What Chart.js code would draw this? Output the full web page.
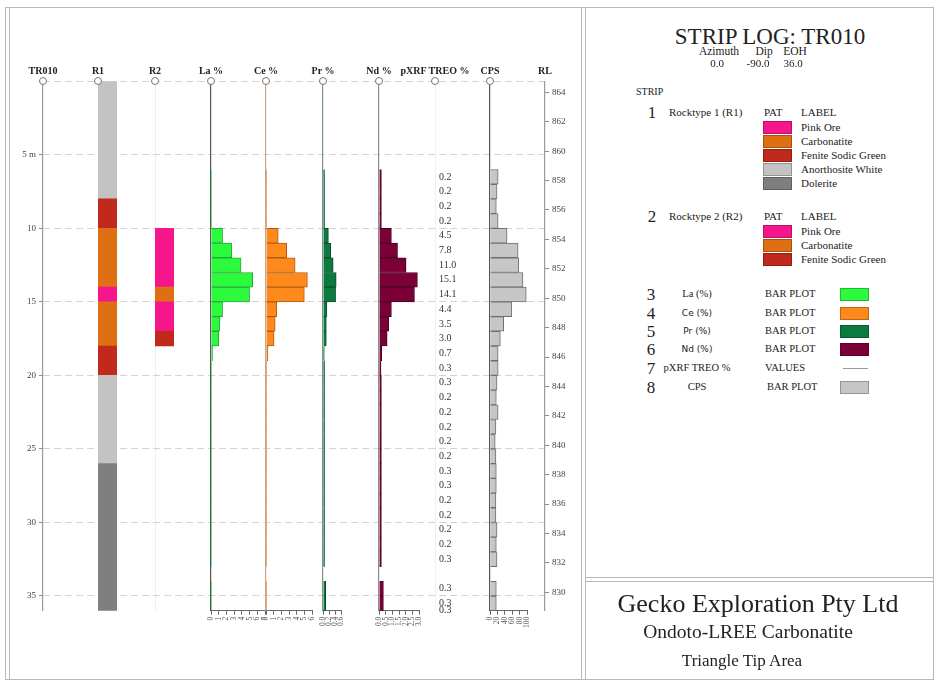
<!DOCTYPE html>
<html>
<head>
<meta charset="utf-8">
<title>Strip Log TR010</title>
<script src="https://cdn.jsdelivr.net/npm/chart.js@4.4.1/dist/chart.umd.min.js"></script>
<style>
  body { margin: 0; width: 939px; height: 682px; position: relative; overflow: hidden; background: #fff;
         font-family: 'Liberation Serif', 'DejaVu Serif', serif; color: #222; }
  canvas { position: absolute; top: 0; }
  .txt { position: absolute; white-space: nowrap; line-height: 1; }
  .line { position: absolute; background: #b8b8b8; }
  .dot { position: absolute; width: 6px; height: 6px; border: 1px solid #777; border-radius: 50%; background: #fff; z-index: 5; }
  .sw { position: absolute; width: 29px; height: 13px; box-sizing: border-box; border: 1px solid rgba(0,0,0,0.25); }
</style>
</head>
<body>
<script>
// ---- hole / data ----
const eohDepth = 36;
const collarRL = 864.75;

// lithology intervals (m)
const r1From = [0, 8, 10, 14, 15, 18, 20, 26];
const r1To   = [8, 10, 14, 15, 18, 20, 26, 36];
const r1Rock = ['Anorthosite White', 'Fenite Sodic Green', 'Carbonatite', 'Pink Ore',
                'Carbonatite', 'Fenite Sodic Green', 'Anorthosite White', 'Dolerite'];
const r2From = [10, 14, 15, 17];
const r2To   = [14, 15, 17, 18];
const r2Rock = ['Pink Ore', 'Carbonatite', 'Pink Ore', 'Fenite Sodic Green'];

// 1 m samples, from-depth; null = no sample (33-34 m)
const sampleFrom = [6, 7, 8, 9, 10, 11, 12, 13, 14, 15, 16, 17, 18, 19, 20,
                    21, 22, 23, 24, 25, 26, 27, 28, 29, 30, 31, 32, 33, 34, 35];
const laPct   = [0.1, 0.1, 0.1, 0.1, 1.5, 2.7, 3.9, 5.4, 5.0, 1.5, 1.15, 1.0, 0.2,
                 0.1, 0.1, 0.1, 0.1, 0.1, 0.1, 0.1, 0.1, 0.1, 0.1, 0.1, 0.1, 0.1, 0.1, null, 0.1, 0.1];
const cePct   = [0.1, 0.1, 0.1, 0.1, 1.6, 2.7, 3.8, 5.4, 5.0, 1.4, 1.2, 1.05, 0.25,
                 0.1, 0.1, 0.1, 0.1, 0.1, 0.1, 0.1, 0.1, 0.1, 0.1, 0.1, 0.1, 0.1, 0.1, null, 0.1, 0.1];
const prPct   = [0.05, 0.05, 0.05, 0.05, 0.18, 0.26, 0.34, 0.44, 0.42, 0.13, 0.11, 0.11, 0.04,
                 0.05, 0.05, 0.05, 0.05, 0.05, 0.05, 0.05, 0.05, 0.05, 0.05, 0.05, 0.05, 0.05, 0.05, null, 0.09, 0.09];
const ndPct   = [0.18, 0.18, 0.18, 0.18, 0.93, 1.39, 2.03, 2.88, 2.66, 0.93, 0.73, 0.61, 0.2,
                 0.15, 0.18, 0.18, 0.18, 0.18, 0.18, 0.18, 0.18, 0.18, 0.18, 0.18, 0.18, 0.18, 0.18, null, 0.33, 0.33];
const treoPct = [0.2, 0.2, 0.2, 0.2, 4.5, 7.8, 11.0, 15.1, 14.1, 4.4, 3.5, 3.0, 0.7,
                 0.3, 0.3, 0.2, 0.2, 0.2, 0.2, 0.2, 0.3, 0.3, 0.2, 0.2, 0.2, 0.2, 0.3, null, 0.3, 0.3];
const treoEoh = 0.3;
const cps     = [22, 19, 17, 22, 46, 76, 78, 89, 98, 59, 37, 28, 22,
                 22, 19, 17, 22, 16, 14, 16, 17, 17, 16, 16, 19, 17, 19, null, 17, 17];

// tick labels
const depthTicks = [0, 5, 10, 15, 20, 25, 30, 35];
const rlTicks  = [864, 862, 860, 858, 856, 854, 852, 850, 848, 846, 844, 842, 840, 838, 836, 834, 832, 830];
const laTicks  = [0, 1, 2, 3, 4, 5, 6, 7];
const ceTicks  = [0, 1, 2, 3, 4, 5, 6];
const prTicks  = [0, 0.2, 0.4, 0.6];
const ndTicks  = [0, 0.5, 1, 1.5, 2, 2.5, 3];
const cpsTicks = [0, 20, 40, 60, 80, 100];

// ---- layout / styles ----
const SERIF = "'Liberation Serif', 'DejaVu Serif', serif";
const SANS = "'DejaVu Sans', sans-serif";
Chart.defaults.font.family = SERIF;
Chart.defaults.color = '#333';

const TOP = 81.3, BOT = 610.7, H = 682;
const X = { depth: 43, R1: 98, R2: 155, La: 211, Ce: 266, Pr: 323, Nd: 379, TREO: 435, CPS: 490, RL: 545 };
const span = { La: 55, Ce: 46.5, Pr: 19, Nd: 41, CPS: 38.3 };

const rockColour = {
  'Pink Ore': '#f6168c',
  'Carbonatite': '#de6f12',
  'Fenite Sodic Green': '#c2291d',
  'Anorthosite White': '#c3c3c3',
  'Dolerite': '#7f7f7f'
};

const base = { responsive: false, animation: false, events: [],
               plugins: { legend: { display: false }, tooltip: { enabled: false } } };

function addCanvas(left, width) {
  const c = document.createElement('canvas');
  c.width = width;
  c.height = H;
  c.style.left = left + 'px';
  document.body.appendChild(c);
  return c;
}

// hidden depth axis that only shows the track's vertical line
const depthLine = colour => ({
  type: 'linear', reverse: true, min: 0, max: eohDepth, offset: false,
  ticks: { display: false, stepSize: 6 },
  grid: { display: false, offset: false },
  border: { display: colour != null, color: colour || '#000', width: 1.2 },
  afterFit: s => { s.width = 0; }
});

// background: depth axis, RL axis and dashed depth grid
new Chart(addCanvas(0, 580), {
  type: 'scatter',
  data: { datasets: [{ data: [] }] },
  options: { ...base,
    layout: { padding: { left: 0, right: 0, top: TOP, bottom: H - BOT } },
    scales: {
      x: { display: false, min: 0, max: 1 },
      y: {
        position: 'left', type: 'linear', reverse: true, min: 0, max: eohDepth,
        afterBuildTicks: s => { s.ticks = depthTicks.map(v => ({ value: v })); },
        afterFit: s => { s.width = X.depth; },
        ticks: { padding: 3, font: { size: 9 }, color: '#444',
                 callback: v => v === 0 ? '' : (v === 5 ? '5 m' : String(v)) },
        grid: { color: '#d2d2d2', lineWidth: 1, tickLength: 4, tickColor: '#888', tickBorderDash: [] },
        border: { display: true, color: '#9a9a9a', width: 1.2, dash: [7, 4] }
      },
      rl: {
        axis: 'y', position: 'right', type: 'linear', min: collarRL - eohDepth, max: collarRL,
        afterBuildTicks: s => { s.ticks = rlTicks.map(v => ({ value: v })); },
        afterFit: s => { s.width = 580 - X.RL; },
        ticks: { padding: 3, font: { size: 9 }, color: '#444' },
        grid: { drawOnChartArea: false, tickLength: 4, color: '#888' },
        border: { display: true, color: '#9a9a9a', width: 1.2 }
      }
    }
  }
});

function lithTrack(key, from, to, rock, width, axisColour) {
  new Chart(addCanvas(X[key], width), {
    type: 'bar',
    data: { labels: [key], datasets: [{
      data: from.map((f, i) => ({ x: key, y: [f, to[i]] })),
      backgroundColor: rock.map(r => rockColour[r]),
      borderWidth: 0, barPercentage: 1, categoryPercentage: 1
    }] },
    options: { ...base,
      layout: { padding: { left: 0, right: 0, top: TOP, bottom: H - BOT } },
      scales: { x: { display: false }, y: depthLine(axisColour) }
    }
  });
}

function barTrack(key, values, ticks, fill, edge, axisColour, fmt) {
  const pad = 10;
  new Chart(addCanvas(X[key] - pad, Math.round(span[key]) + 2 * pad), {
    type: 'bar',
    data: { datasets: [{
      data: sampleFrom.map((d, i) => ({ x: values[i], y: d + 0.5 })),
      backgroundColor: fill, borderColor: edge, borderWidth: 1,
      barPercentage: 1, categoryPercentage: 1
    }] },
    options: { ...base,
      indexAxis: 'y',
      layout: { padding: { left: pad, right: pad + Math.round(span[key]) - span[key], top: TOP, bottom: 0 } },
      scales: {
        y: depthLine(axisColour),
        x: {
          type: 'linear', position: 'bottom', min: ticks[0], max: ticks[ticks.length - 1],
          afterBuildTicks: s => { s.ticks = ticks.map(v => ({ value: v })); },
          afterFit: s => { s.height = H - BOT; },
          ticks: { autoSkip: false, minRotation: 90, maxRotation: 90, padding: 2,
                   font: { size: 7.5 }, color: '#555', callback: fmt },
          grid: { drawOnChartArea: false, tickLength: 4, color: '#666' },
          border: { display: true, color: '#666', width: 1 }
        }
      }
    }
  });
}

const valueLabels = {
  id: 'valueLabels',
  afterDatasetsDraw(chart) {
    const ctx = chart.ctx;
    const pts = chart.data.datasets[0].data;
    ctx.save();
    ctx.font = '10px ' + SERIF;
    ctx.fillStyle = '#333';
    ctx.textBaseline = 'middle';
    chart.getDatasetMeta(0).data.forEach((el, i) => {
      ctx.fillText(pts[i].v.toFixed(1), el.x + 4, el.y);
    });
    ctx.restore();
  }
};

function valueTrack() {
  const pts = [];
  sampleFrom.forEach((d, i) => {
    if (treoPct[i] != null) pts.push({ x: 0, y: d + 0.5, v: treoPct[i] });
  });
  pts.push({ x: 0, y: eohDepth, v: treoEoh });
  new Chart(addCanvas(X.TREO, 40), {
    type: 'scatter',
    data: { datasets: [{ data: pts, pointRadius: 0 }] },
    options: { ...base,
      layout: { padding: { left: 0, right: 0, top: TOP, bottom: H - BOT } },
      scales: { x: { display: false, min: 0, max: 1 }, y: depthLine('#b4b4b4') }
    },
    plugins: [valueLabels]
  });
}

lithTrack('R1', r1From, r1To, r1Rock, 19, null);
lithTrack('R2', r2From, r2To, r2Rock, 19, '#aaaaaa');
barTrack('La', laPct, laTicks, '#2cfb3d', '#27a838', '#555555', v => v);
barTrack('Ce', cePct, ceTicks, '#ff8a1c', '#b55a12', '#c9a48c', v => v);
barTrack('Pr', prPct, prTicks, '#0c7a3e', '#05512a', '#7a9486', v => v.toFixed(1));
barTrack('Nd', ndPct, ndTicks, '#7c0038', '#4a0021', '#8c8c8c', v => v.toFixed(1));
valueTrack();
barTrack('CPS', cps, cpsTicks, '#c6c6c6', '#6e6e6e', '#555555', v => v);

// ---- static text, frame, legend ----
function txt(s, x, y, size, opt = {}) {
  const d = document.createElement('div');
  d.className = 'txt';
  d.textContent = s;
  d.style.left = x + 'px';
  d.style.top = y + 'px';
  d.style.fontSize = size + 'px';
  const tx = opt.align === 'center' ? '-50%' : '0';
  d.style.transform = 'translate(' + tx + ', -50%)';
  if (opt.bold) d.style.fontWeight = 'bold';
  if (opt.family) d.style.fontFamily = opt.family;
  if (opt.color) d.style.color = opt.color;
  document.body.appendChild(d);
}
function box(cls, x, y, w, h, bg) {
  const d = document.createElement('div');
  d.className = cls;
  d.style.left = x + 'px'; d.style.top = y + 'px';
  if (w != null) d.style.width = w + 'px';
  if (h != null) d.style.height = h + 'px';
  if (bg) d.style.background = bg;
  document.body.appendChild(d);
  return d;
}

// frame
box('line', 5, 7, 929, 1);
box('line', 5, 679, 929, 1);
box('line', 5, 7, 1, 673);
box('line', 9, 7, 1, 673);
box('line', 581, 7, 1, 673);
box('line', 585, 7, 1, 673);
box('line', 933, 7, 1, 673);
box('line', 585, 577, 349, 1);
box('line', 585, 581, 349, 1);

// track headers
const headers = [['TR010', 'depth'], ['R1', 'R1'], ['R2', 'R2'], ['La %', 'La'], ['Ce %', 'Ce'],
                 ['Pr %', 'Pr'], ['Nd %', 'Nd'], ['pXRF TREO %', 'TREO'], ['CPS', 'CPS'], ['RL', 'RL']];
headers.forEach(([label, key]) => {
  txt(label, X[key], 71, 10, { align: 'center', bold: true });
  if (key !== 'RL') box('dot', X[key] - 4, TOP - 4);
});

// title block
txt('STRIP LOG: TR010', 770, 36, 23, { align: 'center' });
txt('Azimuth', 719, 52, 11.5, { align: 'center' });
txt('Dip', 764, 52, 11.5, { align: 'center' });
txt('EOH', 795, 52, 11.5, { align: 'center' });
txt('0.0', 717, 63, 11, { align: 'center' });
txt('-90.0', 758, 63, 11, { align: 'center' });
txt('36.0', 793, 63, 11, { align: 'center' });
txt('STRIP', 636, 92, 10);

function rockLegend(num, title, rocks, y0) {
  txt(num, 652, y0, 17, { align: 'center' });
  txt(title, 669, y0, 11);
  txt('PAT', 764, y0, 11);
  txt('LABEL', 801, y0, 11);
  rocks.forEach((r, i) => {
    const y = y0 + 15 + i * 14;
    box('sw', 763, y - 6.5, 29, 13, rockColour[r]);
    txt(r, 801, y, 11);
  });
}
rockLegend('1', 'Rocktype 1 (R1)', ['Pink Ore', 'Carbonatite', 'Fenite Sodic Green', 'Anorthosite White', 'Dolerite'], 112);
rockLegend('2', 'Rocktype 2 (R2)', ['Pink Ore', 'Carbonatite', 'Fenite Sodic Green'], 216);

const plotLegend = [
  ['3', 'La (%)', 'BAR PLOT', '#2cfb3d', SERIF],
  ['4', 'Ce (%)', 'BAR PLOT', '#ff8a1c', SANS],
  ['5', 'Pr (%)', 'BAR PLOT', '#0c7a3e', SANS],
  ['6', 'Nd (%)', 'BAR PLOT', '#7c0038', SANS],
  ['7', 'pXRF TREO %', 'VALUES', null, SERIF],
  ['8', 'CPS', 'BAR PLOT', '#c6c6c6', SERIF]
];
const plotRowY = [294, 313, 331, 349, 368, 387];
plotLegend.forEach(([n, name, kind, colour, fam], i) => {
  const y = plotRowY[i];
  txt(n, 651, y, 17, { align: 'center' });
  txt(name, 697, y, fam === SANS ? 9 : 10.5, { align: 'center', family: fam });
  txt(kind, i === 5 ? 767 : 765, y, 10.5);
  if (colour) box('sw', 840, y - 6.5, 29, 13, colour);
  else box('line', 843, y, 25, 1, '#999');
});

// company block
txt('Gecko Exploration Pty Ltd', 758, 604, 26, { align: 'center' });
txt('Ondoto-LREE Carbonatite', 748, 632, 19.5, { align: 'center' });
txt('Triangle Tip Area', 742, 660, 17, { align: 'center' });
</script>
</body>
</html>
